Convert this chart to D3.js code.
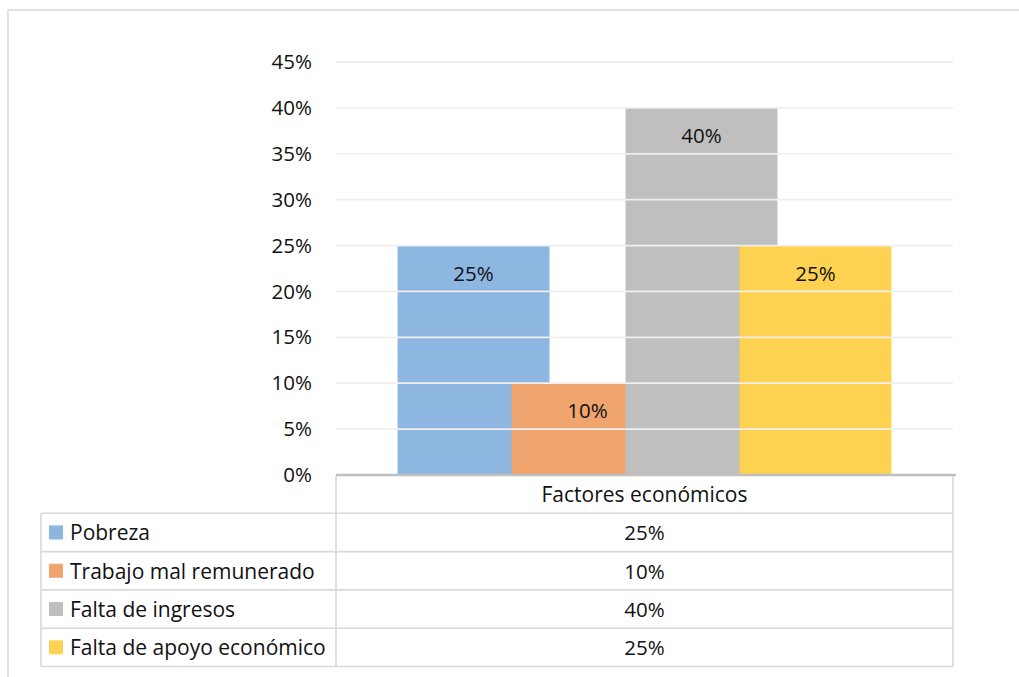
<!DOCTYPE html>
<html><head><meta charset="utf-8">
<script src="https://cdn.jsdelivr.net/npm/d3@7"></script>
<style>body{margin:0;background:#fff}svg{display:block}text{font-family:"Open Sans",sans-serif;fill:#111}</style>
</head><body><svg id="c" width="1019" height="677"></svg>
<script>
const categories = ["Factores económicos"];
const seriesNames = ["Pobreza", "Trabajo mal remunerado", "Falta de ingresos", "Falta de apoyo económico"];
const seriesValues = [0.25, 0.10, 0.40, 0.25];
const seriesColors = ["#8DB6E1", "#F0A46E", "#BFBFBF", "#FDD251"];
const yTicks = [0, 0.05, 0.10, 0.15, 0.20, 0.25, 0.30, 0.35, 0.40, 0.45];

const svg = d3.select("#c");
const fs = 20.5, fsT = 21;
const plot = {l: 336, r: 953, t: 62, b: 475};
const overlap = 0.25, gapWidth = 0.81;

// outer frame
svg.append("path").attr("d", "M8,677 V10 H1019").attr("fill", "none").attr("stroke", "#d9d9d9").attr("stroke-width", 1.5);

const y = d3.scaleLinear().domain([0, 0.45]).range([plot.b, plot.t]);
const x = d3.scaleBand().domain(categories).range([plot.l, plot.r]);
const n = seriesNames.length;
const barW = x.bandwidth() / (gapWidth + 1 + (n - 1) * (1 - overlap));
const groupW = barW + (n - 1) * barW * (1 - overlap);
const xs = d3.scaleBand().domain(seriesNames)
  .range([0, n * barW * (1 - overlap)]).padding(0);
const gx0 = x(categories[0]) + (x.bandwidth() - groupW) / 2;

// bars
const data = seriesNames.map((s, i) => ({s, v: seriesValues[i], c: seriesColors[i]}));
svg.append("g").selectAll("rect").data(data).join("rect")
  .attr("x", d => gx0 + xs(d.s)).attr("width", barW)
  .attr("y", d => y(d.v)).attr("height", d => y(0) - y(d.v))
  .attr("fill", d => d.c);

// gridlines over bars
const yAxis = d3.axisLeft(y).tickValues(yTicks).tickFormat(d3.format(".0%")).tickSize(0).tickPadding(24);
const ga = svg.append("g").attr("transform", `translate(${plot.l},0)`).call(yAxis);
ga.select(".domain").remove();
ga.selectAll("text").attr("font-size", fs).attr("fill", "#111").style("font-family", "'Open Sans'");
svg.append("g").selectAll("line").data(yTicks.filter(t => t > 0)).join("line")
  .attr("x1", plot.l).attr("x2", plot.r).attr("y1", d => y(d)).attr("y2", d => y(d))
  .attr("stroke", "#efefef").attr("stroke-width", 1.8);

// data labels
svg.append("g").selectAll("text").data(data).join("text")
  .attr("x", d => gx0 + xs(d.s) + barW / 2).attr("y", d => y(d.v) + 27)
  .attr("text-anchor", "middle").attr("dominant-baseline", "central")
  .attr("font-size", fs).text(d => d3.format(".0%")(d.v));

// data table
const tL = 41, tR = plot.r, rowH = 38.3, hdrTop = plot.b;
const rowsY = d3.range(n + 1).map(i => hdrTop + rowH * (i + 1));
const tbl = svg.append("g").attr("stroke", "#d9d9d9").attr("stroke-width", 1.6).attr("fill", "none");
tbl.append("line").attr("x1", plot.l).attr("x2", plot.l).attr("y1", hdrTop).attr("y2", rowsY[n]);
tbl.append("line").attr("x1", tR).attr("x2", tR).attr("y1", hdrTop).attr("y2", rowsY[n]);
tbl.append("line").attr("x1", tL).attr("x2", tL).attr("y1", rowsY[0]).attr("y2", rowsY[n]);
tbl.selectAll("line.h").data(rowsY).join("line").attr("class", "h")
  .attr("x1", tL).attr("x2", tR).attr("y1", d => d).attr("y2", d => d);

svg.append("text").attr("x", (plot.l + tR) / 2).attr("y", hdrTop + rowH / 2)
  .attr("text-anchor", "middle").attr("dominant-baseline", "central").attr("font-size", fsT)
  .text(categories[0]);
const rows = svg.append("g").selectAll("g").data(data).join("g")
  .attr("transform", (d, i) => `translate(0,${rowsY[i] + rowH / 2})`);
rows.append("rect").attr("x", 49).attr("y", -7).attr("width", 14).attr("height", 14).attr("fill", d => d.c);
rows.append("text").attr("x", 70).attr("dominant-baseline", "central").attr("font-size", fsT).text(d => d.s);
rows.append("text").attr("x", (plot.l + tR) / 2).attr("text-anchor", "middle")
  .attr("dominant-baseline", "central").attr("font-size", fs).text(d => d3.format(".0%")(d.v));

// category axis line
svg.append("line").attr("x1", plot.l).attr("x2", plot.r + 3).attr("y1", plot.b).attr("y2", plot.b)
  .attr("stroke", "#bfbfbf").attr("stroke-width", 2.5);
</script></body></html>
